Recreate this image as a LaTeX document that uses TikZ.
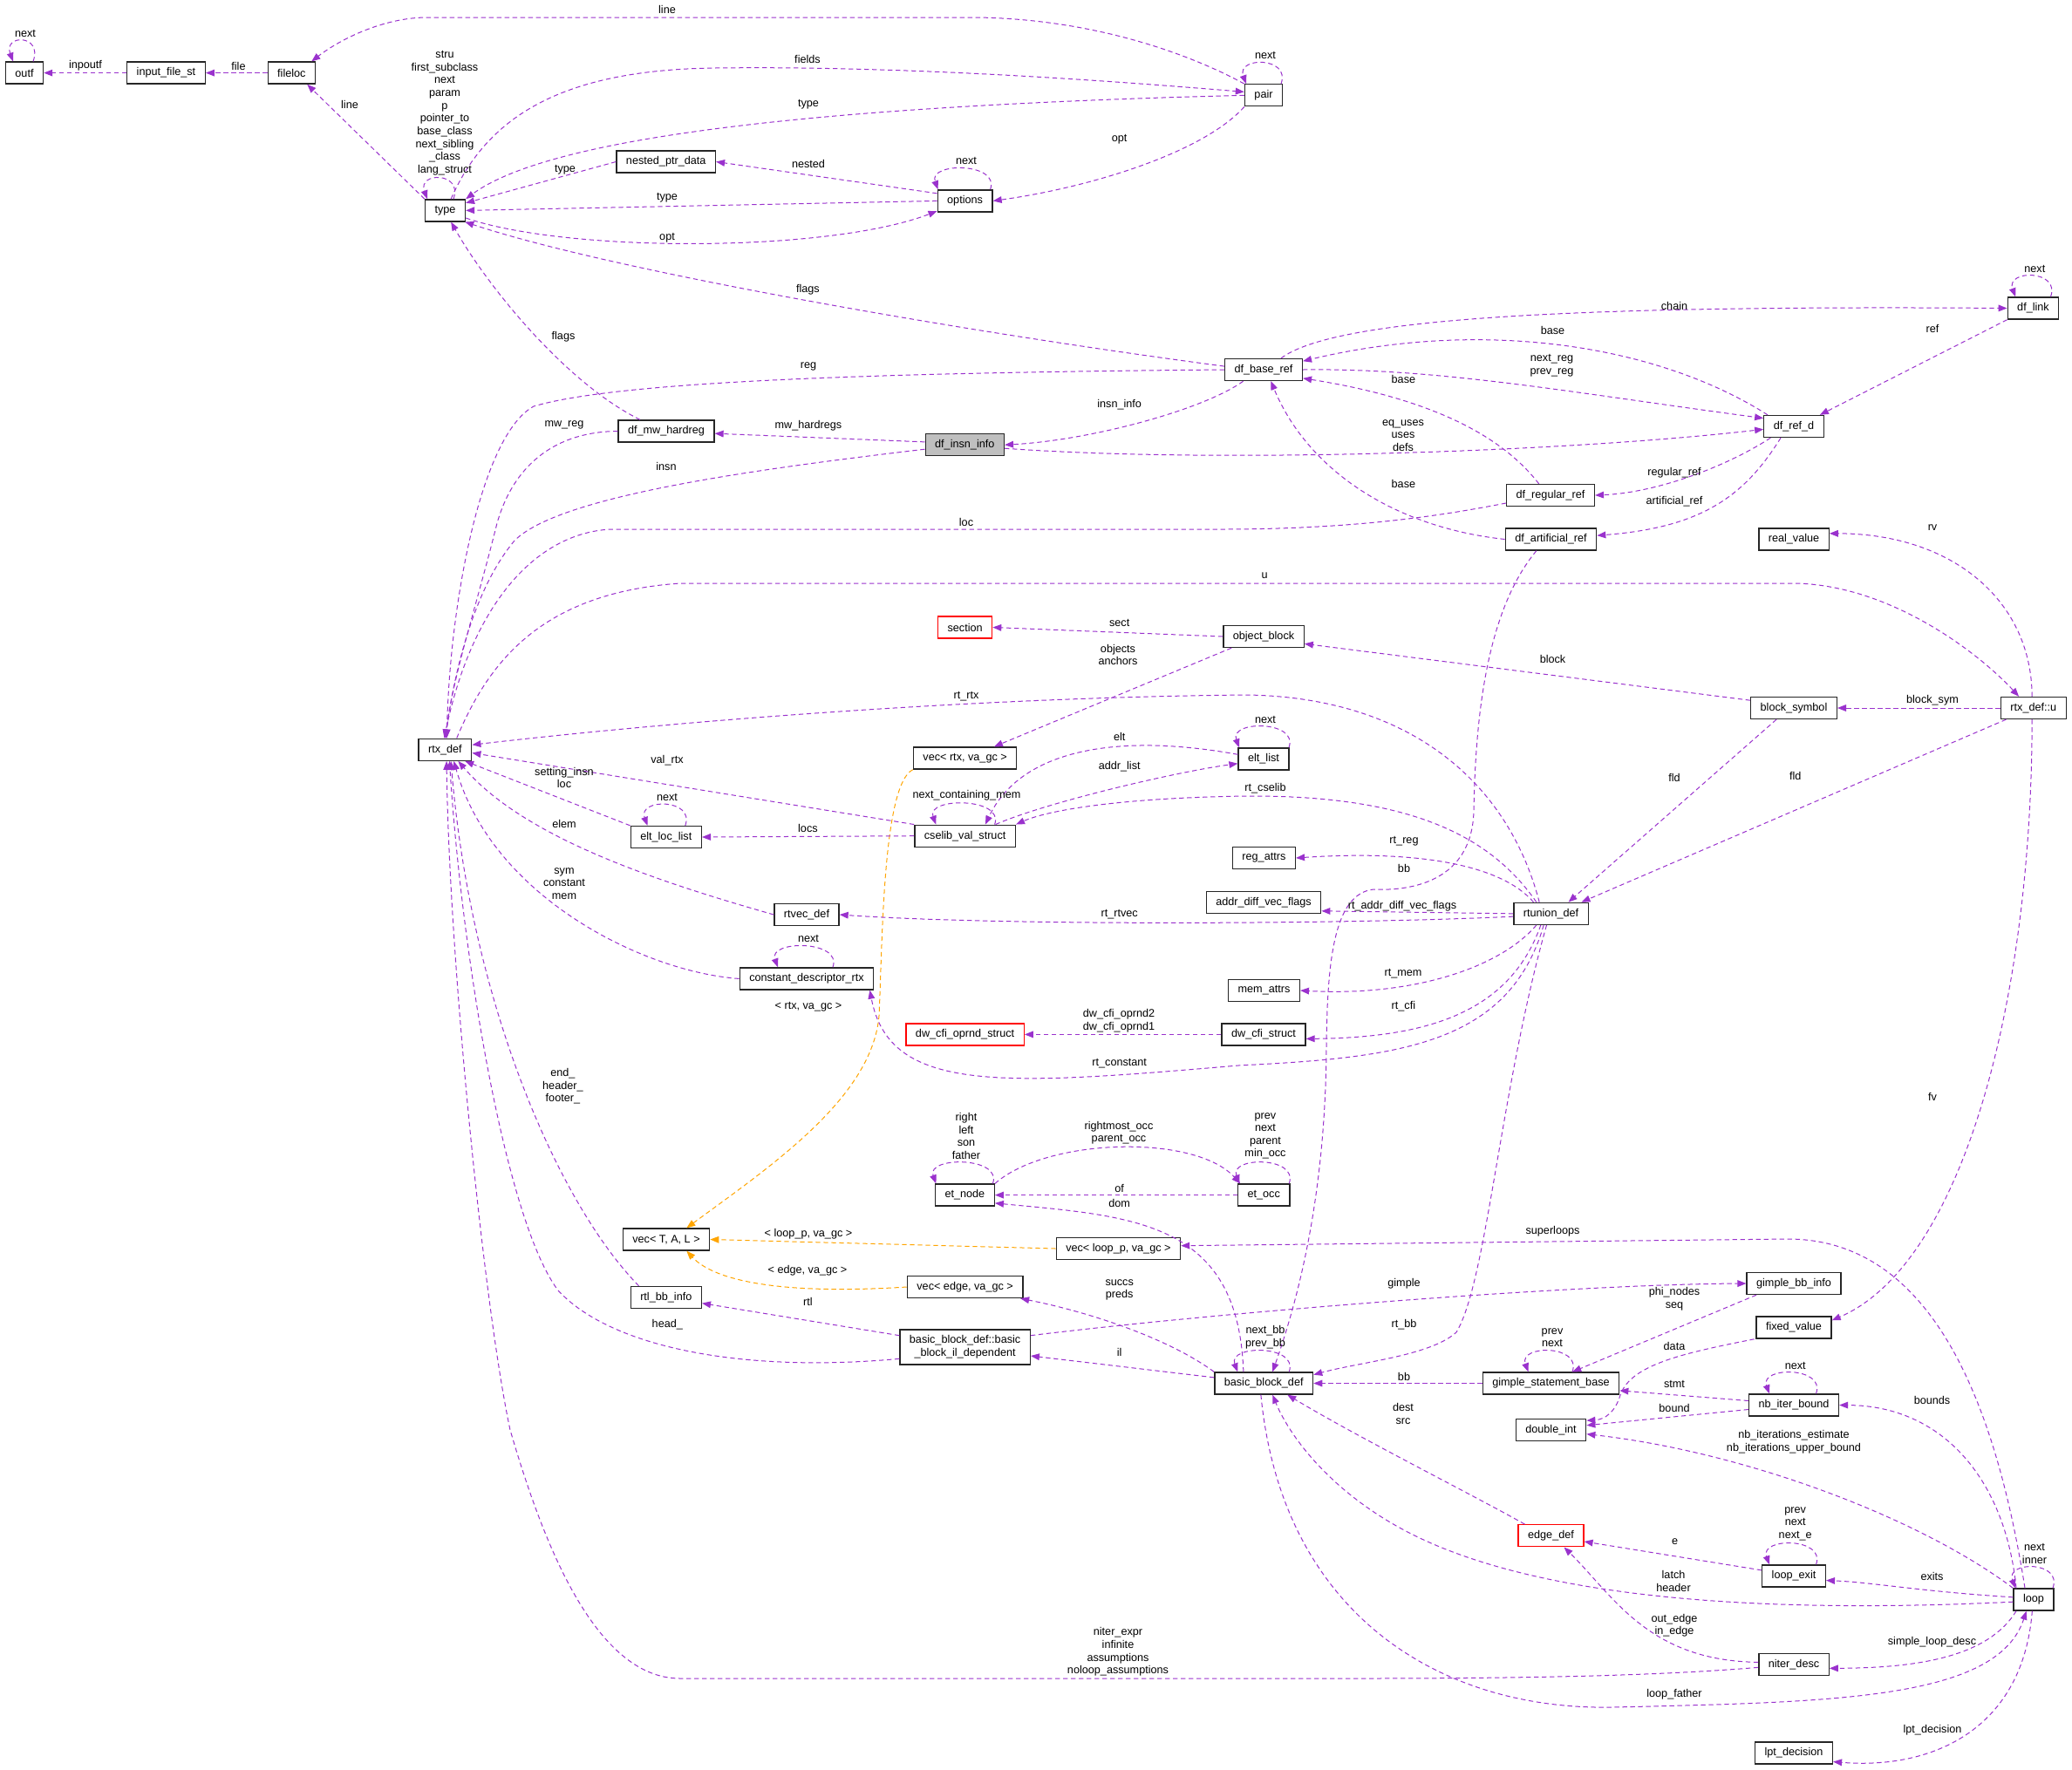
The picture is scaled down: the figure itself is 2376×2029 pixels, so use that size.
\documentclass[tikz,border=0pt]{standalone}
\usepackage{fontspec}
\setmainfont{Liberation Sans}
\usetikzlibrary{arrows.meta}
\definecolor{edgepurple}{HTML}{9A32CD}
\definecolor{edgeorange}{HTML}{FFA500}
\newcommand{\lab}[3]{\node[lbl] (#1) at (#2) {#3};}
\newcommand{\selfloop}[3]{\draw[ref] ([xshift=#2]#1.north) to[out=70,in=110,distance=10mm] ([xshift=#3]#1.north);}

\begin{document}
\begin{tikzpicture}[x=0.3mm, y=-0.3mm,
  cls/.style={draw=black!85, fill=white, line width=0.4mm, minimum height=7.5mm, inner xsep=3.3mm, inner ysep=0pt, font=\fontsize{10.8}{12.5}\selectfont, align=center},
  redcls/.style={cls, draw=red},
  lbl/.style={font=\fontsize{10.8}{12.5}\selectfont, align=center, inner sep=0pt},
  ref/.style={draw=edgepurple, line width=0.3mm, dash pattern=on 1.6mm off 1.1mm, -{Triangle[length=3mm,width=2.3mm]}},
  tmpl/.style={ref, draw=edgeorange}]
\path[use as bounding box, fill=white] (0,0) rectangle (2376,2029);

% classes
\node[cls] (outf) at (28,83.6) {outf};
\node[cls] (input_file_st) at (190.5,83.6) {input\_file\_st};
\node[cls] (fileloc) at (334.4,83.6) {fileloc};
\node[cls] (type) at (510.5,241.4) {type};
\node[cls] (pair) at (1449,109.3) {pair};
\node[cls] (nested_ptr_data) at (763.7,185.5) {nested\_ptr\_data};
\node[cls] (options) at (1106.6,230.4) {options};
\node[cls] (df_link) at (2331.5,353.5) {df\_link};
\node[cls] (df_base_ref) at (1449,424) {df\_base\_ref};
\node[cls] (df_ref_d) at (2057,489) {df\_ref\_d};
\node[cls] (df_mw_hardreg) at (764,494.5) {df\_mw\_hardreg};
\node[cls, fill=black!25] (df_insn_info) at (1106.3,510.2) {df\_insn\_info};
\node[cls] (df_regular_ref) at (1778,568) {df\_regular\_ref};
\node[cls] (df_artificial_ref) at (1778.5,618.5) {df\_artificial\_ref};
\node[cls] (real_value) at (2057,618.5) {real\_value};
\node[redcls] (section) at (1106.6,719.5) {section};
\node[cls] (object_block) at (1449,730) {object\_block};
\node[cls] (block_symbol) at (2057,812) {block\_symbol};
\node[cls] (rtxu) at (2331.8,812) {rtx\_def::u};
\node[cls] (rtx_def) at (510.4,859.7) {rtx\_def};
\node[cls] (vec_rtx) at (1106.6,869.5) {vec< rtx, va\_gc >};
\node[cls] (elt_list) at (1449,870.5) {elt\_list};
\node[cls] (cselib) at (1106.6,958.7) {cselib\_val\_struct};
\node[cls] (elt_loc_list) at (763.8,960) {elt\_loc\_list};
\node[cls] (reg_attrs) at (1449.4,984) {reg\_attrs};
\node[cls] (addr_diff) at (1449,1034.8) {addr\_diff\_vec\_flags};
\node[cls] (rtunion_def) at (1778.5,1047.8) {rtunion\_def};
\node[cls] (rtvec_def) at (925,1049) {rtvec\_def};
\node[cls] (const_desc) at (925,1122.4) {constant\_descriptor\_rtx};
\node[cls] (mem_attrs) at (1449.5,1136) {mem\_attrs};
\node[redcls] (dw_cfi_oprnd) at (1106.6,1186.4) {dw\_cfi\_oprnd\_struct};
\node[cls] (dw_cfi_struct) at (1449,1186.4) {dw\_cfi\_struct};
\node[cls] (et_node) at (1106.4,1370.6) {et\_node};
\node[cls] (et_occ) at (1449.2,1370.6) {et\_occ};
\node[cls] (vec_tal) at (764,1421.5) {vec< T, A, L >};
\node[cls] (vec_loop) at (1282.4,1432) {vec< loop\_p, va\_gc >};
\node[cls] (vec_edge) at (1106.6,1476) {vec< edge, va\_gc >};
\node[cls] (rtl_bb_info) at (763.8,1488) {rtl\_bb\_info};
\node[cls, minimum height=12mm] (bb_il) at (1106.6,1545) {basic\_block\_def::basic\\\_block\_il\_dependent};
\node[cls] (bb_def) at (1449.2,1586.5) {basic\_block\_def};
\node[cls] (gimple_bb_info) at (2057,1472) {gimple\_bb\_info};
\node[cls] (fixed_value) at (2057,1522.6) {fixed\_value};
\node[cls] (gsb) at (1778.5,1586.5) {gimple\_statement\_base};
\node[cls] (nb_iter_bound) at (2057,1611.5) {nb\_iter\_bound};
\node[cls] (double_int) at (1778.5,1639.7) {double\_int};
\node[redcls] (edge_def) at (1778.5,1761.3) {edge\_def};
\node[cls] (loop_exit) at (2057,1807.5) {loop\_exit};
\node[cls] (loop) at (2332,1834.5) {loop};
\node[cls] (niter_desc) at (2057,1909) {niter\_desc};
\node[cls] (lpt_decision) at (2057,2010.5) {lpt\_decision};

% gengtype part
\draw[ref] (input_file_st) -- (outf);
\draw[ref] (fileloc) -- (input_file_st);
\draw[ref] (pair.north west) .. controls (1370,65) and (1260,22) .. (1120,20) -- (490,20) .. controls (440,20) and (390,45) .. ([xshift=-1.5mm]fileloc.north east);
\draw[ref] (type.north west) -- ([xshift=-3mm]fileloc.south east);
\draw[ref] ([xshift=2mm]type.north) .. controls (560,130) and (650,80) .. (820,78) .. controls (1050,75) and (1300,95) .. (pair.170);
\draw[ref] (pair.west) .. controls (1000,120) and (640,150) .. (type.north east);
\draw[ref] (nested_ptr_data.west) -- (type.20);
\draw[ref] (options.165) -- (nested_ptr_data.east);
\draw[ref] (options.west) -- (type.east);
\draw[ref] (type.-20) .. controls (650,290) and (950,290) .. (options.200);
\draw[ref] (pair.south west) .. controls (1380,175) and (1250,215) .. (options.east);
\draw[ref] (df_base_ref.175) .. controls (1100,380) and (700,310) .. (type.-30);
\draw[ref] ([xshift=-9mm]df_mw_hardreg.north) .. controls (650,440) and (560,330) .. ([xshift=2mm]type.south);

% df part
\draw[ref] (df_base_ref.west) .. controls (950,428) and (700,440) .. (612,466) .. controls (550,500) and (515,700) .. ([xshift=0.6mm]rtx_def.north);
\draw[ref] (df_mw_hardreg.west) .. controls (640,495) and (590,530) .. (570,600) .. controls (545,700) and (518,780) .. ([xshift=0.3mm]rtx_def.north);
\draw[ref] ([yshift=-1.5mm]df_insn_info.west) .. controls (850,540) and (640,570) .. (590,620) .. controls (540,680) and (520,780) .. (rtx_def.north);
\draw[ref] (df_regular_ref.190) .. controls (1660,590) and (1560,607) .. (1400,607) -- (700,607) .. controls (610,612) and (540,700) .. ([xshift=-0.3mm]rtx_def.north);
\draw[ref] ([yshift=1mm]df_insn_info.west) -- ([yshift=-0.8mm]df_mw_hardreg.east);
\draw[ref] ([xshift=-7mm]df_base_ref.south) .. controls (1380,470) and (1250,505) .. (df_insn_info.east);
\draw[ref] (df_insn_info.-5) .. controls (1400,532) and (1800,518) .. ([yshift=-1mm]df_ref_d.west);
\draw[ref] ([xshift=6mm]df_base_ref.north) .. controls (1530,365) and (1800,350) .. (df_link.west);
\draw[ref] (df_link.south west) -- ([xshift=-1.5mm]df_ref_d.north east);
\draw[ref] ([xshift=-9mm]df_ref_d.north) .. controls (1900,395) and (1700,365) .. ([yshift=-1mm]df_base_ref.north east);
\draw[ref] (df_base_ref.east) .. controls (1650,422) and (1800,450) .. (df_ref_d.165);
\draw[ref] ([xshift=-8mm]df_ref_d.south) .. controls (1980,535) and (1900,565) .. (df_regular_ref.east);
\draw[ref] ([xshift=-4.5mm]df_ref_d.south) .. controls (2000,570) and (1950,605) .. ([yshift=1.3mm]df_artificial_ref.east);
\draw[ref] ([xshift=-4mm]df_regular_ref.north) .. controls (1730,510) and (1660,460) .. ([yshift=1mm]df_base_ref.south east);
\draw[ref] (df_artificial_ref.west) .. controls (1600,605) and (1500,540) .. ([xshift=2.5mm]df_base_ref.south);
\draw[ref] ([xshift=-5mm]df_artificial_ref.south) .. controls (1705,700) and (1692,820) .. (1690,930) .. controls (1688,1010) and (1620,1022) .. (1575,1020) .. controls (1530,1025) and (1522,1100) .. (1521,1200) .. controls (1520,1380) and (1485,1500) .. ([xshift=3mm]bb_def.north);

% rtx part
\draw[ref] ([xshift=4mm]rtx_def.north) .. controls (560,760) and (620,680) .. (780,669) -- (2060,669) .. controls (2170,672) and (2270,750) .. ([xshift=-5mm]rtxu.north);
\draw[ref] ([xshift=-0.5mm]rtxu.north) .. controls (2330,690) and (2240,612) .. ([yshift=2mm]real_value.east);
\draw[ref] (rtxu.west) -- (block_symbol.east);
\draw[ref] ([xshift=2mm]rtxu.south west) -- ([xshift=-2.5mm]rtunion_def.north east);
\draw[ref] ([xshift=-0.5mm]rtxu.south) .. controls (2330,1150) and (2250,1450) .. ([yshift=2.5mm]fixed_value.east);
\draw[ref] (block_symbol.170) -- ([yshift=-2.5mm]object_block.east);
\draw[ref] ([xshift=-6mm]block_symbol.south) -- ([xshift=6mm]rtunion_def.north);
\draw[ref] (object_block.west) -- (section.east);
\draw[ref] ([xshift=3mm]object_block.south west) -- ([xshift=10mm]vec_rtx.north);
\draw[tmpl] (vec_rtx.south west) .. controls (1012,900) and (1012,1080) .. (1008,1165) .. controls (1000,1260) and (880,1340) .. ([xshift=7mm]vec_tal.north);
\draw[ref] ([xshift=-4mm]rtunion_def.north) .. controls (1730,900) and (1620,800) .. (1430,797) .. controls (1100,800) and (750,830) .. (rtx_def.10);
\draw[ref] (cselib.north west) -- (rtx_def.-7);
\draw[ref] (elt_loc_list.north west) -- (rtx_def.-30);
\draw[ref] (cselib.west) -- (elt_loc_list.east);
\draw[ref] (elt_list.170) .. controls (1280,840) and (1170,860) .. ([xshift=7mm]cselib.north);
\draw[ref] ([xshift=10.5mm]cselib.north) .. controls (1200,920) and (1350,885) .. (elt_list.190);
\draw[ref] ([xshift=-5mm]rtunion_def.north) .. controls (1710,960) and (1620,912) .. (1430,913) .. controls (1280,915) and (1200,930) .. (cselib.north east);
\draw[ref] (rtvec_def.west) .. controls (750,1010) and (600,960) .. ([xshift=4.5mm]rtx_def.south);
\draw[ref] (const_desc.west) .. controls (740,1115) and (565,1030) .. ([xshift=3mm]rtx_def.south);
\draw[ref] ([xshift=-6mm]rtunion_def.north) .. controls (1720,990) and (1620,975) .. (reg_attrs.east);
\draw[ref] (rtunion_def.west) -- ([yshift=-3mm]addr_diff.east);
\draw[ref] ([yshift=-1mm]rtunion_def.west) .. controls (1550,1060) and (1150,1062) .. (rtvec_def.east);
\draw[ref] ([xshift=-5mm]rtunion_def.south) .. controls (1720,1110) and (1620,1143) .. (mem_attrs.east);
\draw[ref] ([xshift=-3.5mm]rtunion_def.south) .. controls (1730,1165) and (1630,1190) .. ([yshift=-1.5mm]dw_cfi_struct.east);
\draw[ref] ([xshift=-2.5mm]rtunion_def.south) .. controls (1730,1200) and (1600,1213) .. (1420,1222) .. controls (1150,1245) and (1020,1255) .. ([xshift=-1.5mm]const_desc.south east);
\draw[ref] ([xshift=-1.5mm]rtunion_def.south) .. controls (1720,1250) and (1705,1470) .. (1670,1528) .. controls (1640,1555) and (1560,1562) .. ([yshift=-1mm]bb_def.north east);
\draw[ref] (dw_cfi_struct.west) -- (dw_cfi_oprnd.east);

% basic blocks and loops
\draw[ref] (et_node.north east) .. controls (1200,1305) and (1370,1300) .. ([xshift=1mm]et_occ.north west);
\draw[ref] (et_occ.west) -- (et_node.east);
\draw[ref] ([xshift=-7mm]bb_def.north) .. controls (1420,1400) and (1300,1395) .. (et_node.-15);
\draw[tmpl] (vec_loop.west) -- (vec_tal.east);
\draw[tmpl] (vec_edge.west) .. controls (900,1485) and (820,1470) .. ([xshift=7mm]vec_tal.south);
\draw[ref] ([xshift=-3mm]loop.north) .. controls (2290,1620) and (2220,1421) .. (2050,1421) -- ([yshift=1mm]vec_loop.east);
\draw[ref] (bb_def.north west) .. controls (1340,1535) and (1250,1505) .. ([xshift=-1mm]vec_edge.south east);
\draw[ref] ([yshift=4mm]bb_il.west) -- ([yshift=-2mm]rtl_bb_info.east);
\draw[ref] ([yshift=4mm]bb_il.east) .. controls (1400,1505) and (1800,1473) .. (gimple_bb_info.west);
\draw[ref] ([yshift=-4mm]bb_il.west) .. controls (850,1575) and (700,1545) .. (640,1480) .. controls (580,1400) and (530,1100) .. ([xshift=1.5mm]rtx_def.south);
\draw[ref] ([xshift=3mm]rtl_bb_info.north west) .. controls (640,1380) and (540,1150) .. ([xshift=2mm]rtx_def.south);
\draw[ref] ([yshift=-1mm]niter_desc.west) .. controls (1900,1922) and (1750,1925) .. (1550,1925) -- (780,1925) .. controls (680,1925) and (620,1760) .. (585,1640) .. controls (555,1500) and (515,1100) .. ([xshift=0.5mm]rtx_def.south);
\draw[ref] ([yshift=2mm]bb_def.west) -- ([yshift=-3mm]bb_il.east);
\draw[ref] ([xshift=3.5mm]gimple_bb_info.south west) -- ([xshift=7.4mm]gsb.north);
\draw[ref] (gsb.west) -- (bb_def.east);
\draw[ref] ([xshift=-0.5mm]fixed_value.south west) .. controls (1930,1552) and (1870,1565) .. (1858,1600) .. controls (1852,1620) and (1840,1628) .. ([yshift=-0.8mm]double_int.north east);
\draw[ref] ([yshift=1.5mm]nb_iter_bound.west) -- ([yshift=-2.5mm]gsb.east);
\draw[ref] ([yshift=-1.5mm]nb_iter_bound.west) -- ([yshift=1.5mm]double_int.east);
\draw[ref] ([xshift=-6mm]loop.north) .. controls (2300,1700) and (2230,1612) .. (nb_iter_bound.east);
\draw[ref] (loop.north west) .. controls (2200,1740) and (2000,1665) .. ([yshift=-1.5mm]double_int.east);
\draw[ref] ([xshift=-9mm]edge_def.north) .. controls (1690,1715) and (1560,1650) .. ([xshift=-9mm]bb_def.south east);
\draw[ref] ([yshift=2mm]loop_exit.west) -- ([yshift=-2mm]edge_def.east);
\draw[ref] ([yshift=0.8mm]loop.west) .. controls (2200,1825) and (2150,1815) .. ([yshift=-1.5mm]loop_exit.east);
\draw[ref] ([yshift=-0.8mm]loop.west) .. controls (2000,1852) and (1760,1830) .. (1620,1760) .. controls (1530,1715) and (1480,1650) .. ([xshift=3mm]bb_def.south);
\draw[ref] ([yshift=0.8mm]niter_desc.west) .. controls (1890,1905) and (1850,1830) .. ([xshift=4.5mm]edge_def.south);
\draw[ref] ([xshift=-6mm]loop.south) .. controls (2280,1900) and (2200,1913) .. ([yshift=-1.3mm]niter_desc.east);
\draw[ref] ([xshift=-1mm]bb_def.south) .. controls (1470,1850) and (1650,1962) .. (1850,1958) .. controls (2100,1952) and (2290,1950) .. ([xshift=-2.5mm]loop.south);
\draw[ref] ([xshift=-0.5mm]loop.south) .. controls (2320,1980) and (2220,2030) .. ([yshift=-3mm]lpt_decision.east);

% self references
\selfloop{outf}{3mm}{-3.9mm}
\selfloop{type}{2.85mm}{-6.15mm}
\selfloop{pair}{6mm}{-6mm}
\selfloop{options}{8.7mm}{-9.3mm}
\selfloop{df_link}{6mm}{-6.1mm}
\selfloop{elt_loc_list}{6.6mm}{-6.4mm}
\selfloop{cselib}{10.2mm}{-10mm}
\selfloop{elt_list}{8.7mm}{-8.4mm}
\selfloop{const_desc}{9mm}{-9.9mm}
\selfloop{et_node}{9.6mm}{-9.9mm}
\selfloop{et_occ}{8.7mm}{-8.4mm}
\selfloop{bb_def}{8.7mm}{-9mm}
\selfloop{gsb}{7.35mm}{-7.8mm}
\selfloop{nb_iter_bound}{7.65mm}{-8.4mm}
\selfloop{loop_exit}{7.65mm}{-8.4mm}
\selfloop{loop}{6.6mm}{-6.3mm}

% labels
\lab{l-outf}{29,38.7}{next}
\lab{l-inpoutf}{98,75.7}{inpoutf}
\lab{l-file}{273.5,75.7}{file}
\lab{l-line1}{401,120}{line}
\lab{l-line2}{765,11}{line}
\lab{l-typeself}{510,129.8}{stru\\first\_subclass\\next\\param\\p\\pointer\_to\\base\_class\\next\_sibling\\\_class\\lang\_struct}
\lab{l-fields}{926,68.2}{fields}
\lab{l-type1}{927,119.7}{type}
\lab{l-pair}{1451,63.8}{next}
\lab{l-opt1}{1283.7,159.7}{opt}
\lab{l-type2}{648,194.5}{type}
\lab{l-nested}{927,188}{nested}
\lab{l-options}{1108,184.8}{next}
\lab{l-type3}{765,226.6}{type}
\lab{l-opt2}{765,272.8}{opt}
\lab{l-flags1}{926.4,332.2}{flags}
\lab{l-flags2}{646,386.4}{flags}
\lab{l-reg}{927,420.2}{reg}
\lab{l-insninfo}{1283.7,464.2}{insn\_info}
\lab{l-mwhardregs}{927,488.4}{mw\_hardregs}
\lab{l-mwreg}{647,487.6}{mw\_reg}
\lab{l-insn}{764,534.7}{insn}
\lab{l-loc}{1108,599.3}{loc}
\lab{l-u}{1450,660}{u}
\lab{l-dflink}{2333.3,308}{next}
\lab{l-chain}{1920,350.7}{chain}
\lab{l-ref}{2216,376.7}{ref}
\lab{l-base1}{1780.5,379.3}{base}
\lab{l-nextreg}{1779.5,419.4}{next\_reg\\prev\_reg}
\lab{l-base2}{1609.4,434.8}{base}
\lab{l-uses}{1609,499.3}{eq\_uses\\uses\\defs}
\lab{l-base3}{1609.4,554.5}{base}
\lab{l-regularref}{1920,542.6}{regular\_ref}
\lab{l-artificialref}{1920,575.1}{artificial\_ref}
\lab{l-rv}{2216,605}{rv}
\lab{l-sect}{1283.7,714.4}{sect}
\lab{l-objects}{1282,751}{objects\\anchors}
\lab{l-block}{1780.5,755.8}{block}
\lab{l-rtrtx}{1108,798.5}{rt\_rtx}
\lab{l-blocksym}{2216,803.3}{block\_sym}
\lab{l-eltlist}{1451,825}{next}
\lab{l-elt}{1283.7,844.7}{elt}
\lab{l-valrtx}{765,872.4}{val\_rtx}
\lab{l-addrlist}{1283.7,879.5}{addr\_list}
\lab{l-settinginsn}{647,892}{setting\_insn\\loc}
\lab{l-fld1}{1920,892.2}{fld}
\lab{l-fld2}{2058.7,890}{fld}
\lab{l-rtcselib}{1451,904.5}{rt\_cselib}
\lab{l-nextcont}{1108.5,912.5}{next\_containing\_mem}
\lab{l-eltloclist}{765,914.7}{next}
\lab{l-elem}{647,944.6}{elem}
\lab{l-locs}{926.4,950.3}{locs}
\lab{l-rtreg}{1610,964.8}{rt\_reg}
\lab{l-bb1}{1610,995.6}{bb}
\lab{l-sym}{647,1013.3}{sym\\constant\\mem}
\lab{l-rtaddr}{1608,1038.8}{rt\_addr\_diff\_vec\_flags}
\lab{l-rtrtvec}{1283.7,1048.4}{rt\_rtvec}
\lab{l-constdesc}{927,1076.6}{next}
\lab{l-rtmem}{1609,1116.6}{rt\_mem}
\lab{l-rtcfi}{1609.4,1154.5}{rt\_cfi}
\lab{l-vecrtx}{927,1155}{< rtx, va\_gc >}
\lab{l-oprnd}{1283,1171}{dw\_cfi\_oprnd2\\dw\_cfi\_oprnd1}
\lab{l-rtconstant}{1283.7,1219.6}{rt\_constant}
\lab{l-end}{645.4,1245.8}{end\_\\header\_\\footer\_}
\lab{l-fv}{2216,1258.3}{fv}
\lab{l-etnode}{1108,1302.8}{right\\left\\son\\father}
\lab{l-rightmost}{1283,1299.2}{rightmost\_occ\\parent\_occ}
\lab{l-etocc}{1451,1302.8}{prev\\next\\parent\\min\_occ}
\lab{l-of}{1283.7,1362.8}{of}
\lab{l-dom}{1283.7,1380.4}{dom}
\lab{l-superloops}{1780.5,1412.5}{superloops}
\lab{l-vecloop}{927,1415.6}{< loop\_p, va\_gc >}
\lab{l-vecedge}{926,1457.3}{< edge, va\_gc >}
\lab{l-gimple}{1610,1472.7}{gimple}
\lab{l-succs}{1283.7,1479.3}{succs\\preds}
\lab{l-phinodes}{1920,1489.8}{phi\_nodes\\seq}
\lab{l-rtl}{926.4,1492.5}{rtl}
\lab{l-rtbb}{1610,1518.8}{rt\_bb}
\lab{l-head}{765.3,1519.3}{head\_}
\lab{l-nextbb}{1451,1533.7}{next\_bb\\prev\_bb}
\lab{l-gsb}{1780,1534}{prev\\next}
\lab{l-data}{1920,1544.3}{data}
\lab{l-il}{1283.7,1551}{il}
\lab{l-nbiter}{2058.7,1566.7}{next}
\lab{l-bb2}{1610,1578.6}{bb}
\lab{l-stmt}{1920,1587.4}{stmt}
\lab{l-bounds}{2215.5,1606.3}{bounds}
\lab{l-bound}{1920,1614.6}{bound}
\lab{l-dest}{1609,1621.6}{dest\\src}
\lab{l-nbiters}{2057,1653.5}{nb\_iterations\_estimate\\nb\_iterations\_upper\_bound}
\lab{l-loopexit}{2058.7,1747.6}{prev\\next\\next\_e}
\lab{l-e}{1920.6,1768.4}{e}
\lab{l-loop}{2333,1781.8}{next\\inner}
\lab{l-latch}{1919,1813.5}{latch\\header}
\lab{l-exits}{2215.5,1808.4}{exits}
\lab{l-outedge}{1920,1864.2}{out\_edge\\in\_edge}
\lab{l-niter}{1282,1894.5}{niter\_expr\\infinite\\assumptions\\noloop\_assumptions}
\lab{l-simple}{2215.5,1883}{simple\_loop\_desc}
\lab{l-loopfather}{1920,1943.3}{loop\_father}
\lab{l-lpt}{2216,1984.2}{lpt\_decision}
\end{tikzpicture}
\end{document}
